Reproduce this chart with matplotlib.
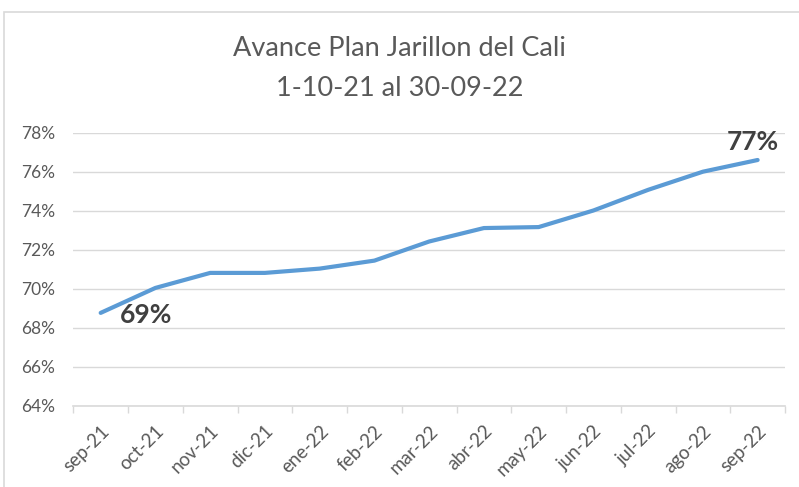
import matplotlib
matplotlib.use('Agg')
import matplotlib.pyplot as plt
from matplotlib.patches import Rectangle
from matplotlib.ticker import FuncFormatter, FixedLocator
import numpy as np

months = ['sep-21', 'oct-21', 'nov-21', 'dic-21', 'ene-22', 'feb-22', 'mar-22',
          'abr-22', 'may-22', 'jun-22', 'jul-22', 'ago-22', 'sep-22']
avance = [68.76, 70.04, 70.81, 70.81, 71.03, 71.44, 72.42,
          73.11, 73.16, 74.01, 75.07, 76.0, 76.6]
yticks = [64, 66, 68, 70, 72, 74, 76, 78]

plt.rcParams['font.family'] = ['Lato', 'DejaVu Sans']
grey_txt = '#595959'
grid_c = '#D9D9D9'

fig = plt.figure(figsize=(7.99, 4.87), dpi=100)
ax = fig.add_axes([73.3/799, 1 - 405.7/487, (785 - 73.3)/799, (405.7 - 132.7)/487])

# marco gris del grafico
fig.add_artist(Rectangle((4/799, -0.5), 1.5, 1.5 - 12/487, transform=fig.transFigure,
                         fill=False, edgecolor=grid_c, linewidth=1.2))

x = np.arange(len(months))
ax.plot(x, avance, color='#5B9BD5', linewidth=3, solid_capstyle='round',
        solid_joinstyle='round', zorder=3)

ax.set_xlim(-0.5, len(months) - 0.5)
ax.set_ylim(yticks[0], yticks[-1])
ax.set_yticks(yticks)
ax.yaxis.set_major_formatter(FuncFormatter(lambda v, p: f'{v:.0f}%'))
ax.grid(axis='y', color=grid_c, linewidth=1)
ax.set_axisbelow(True)

ax.set_xticks(x)
ax.set_xticklabels(months, rotation=45, ha='right', rotation_mode='anchor')
ax.xaxis.set_minor_locator(FixedLocator(np.arange(-0.5, len(months), 1.0)))
ax.tick_params(axis='x', which='major', length=0, pad=12, labelsize=13.5, labelcolor=grey_txt)
ax.tick_params(axis='x', which='minor', length=5, width=1, color=grid_c)
ax.tick_params(axis='y', length=0, pad=13, labelsize=12.5, labelcolor=grey_txt)

for s in ['top', 'right', 'left']:
    ax.spines[s].set_visible(False)
ax.spines['bottom'].set_color(grid_c)
ax.spines['bottom'].set_linewidth(1.2)

ax.annotate(f'{avance[0]:.0f}%', (x[0], avance[0]), xytext=(33, -1.5),
            textcoords='offset points', ha='center', va='center',
            fontsize=19, fontweight='bold', color='#404040')
ax.annotate(f'{avance[-1]:.0f}%', (x[-1], avance[-1]), xytext=(-3.5, 13),
            textcoords='offset points', ha='center', va='center',
            fontsize=19, fontweight='bold', color='#404040')

fig.text(0.5, 1 - 48/487, 'Avance Plan Jarillon del Cali', ha='center', va='center',
         fontsize=19.5, color=grey_txt)
fig.text(0.5, 1 - 88/487, '1-10-21 al 30-09-22', ha='center', va='center',
         fontsize=19.5, color=grey_txt)

fig.savefig('out.png', dpi=100)
